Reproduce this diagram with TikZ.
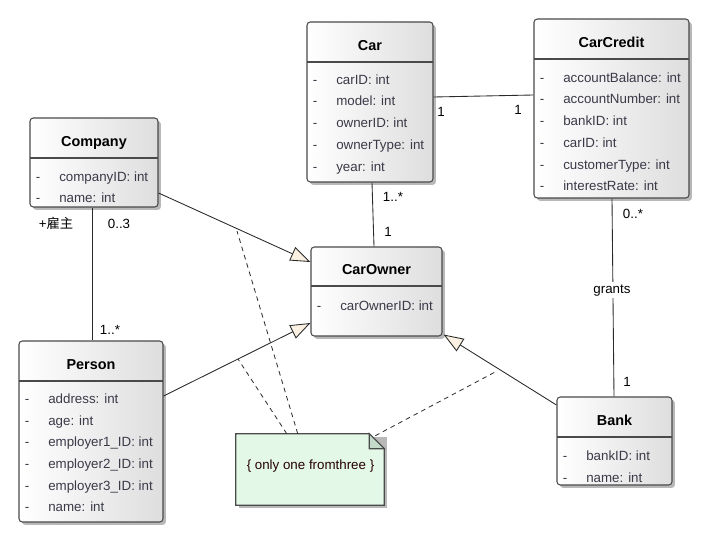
\documentclass[tikz,border=0pt]{standalone}
\usepackage{fontspec}
\setmainfont{Liberation Sans}
\newfontfamily\cjk{Noto Sans CJK SC}
\usetikzlibrary{arrows.meta,calc,fit,shadows}
\definecolor{boxline}{HTML}{4A4A4A}
\definecolor{attrcol}{HTML}{3A3A48}
\definecolor{arrowfill}{HTML}{FBF1E2}
\definecolor{notefill}{HTML}{E3F8E7}
\definecolor{foldfill}{HTML}{C3D9C9}
\definecolor{conn}{HTML}{2A2A2A}
\tikzset{
  classbox/.style={draw=boxline, line width=0.8pt, rounded corners=2.5pt, inner sep=0pt,
    left color=white, right color=black!13,
    drop shadow={shadow xshift=2.2pt, shadow yshift=-2.2pt, opacity=0.28, fill=black}},
  divline/.style={draw=boxline, line width=0.8pt},
  classtitle/.style={font=\fontsize{10.8pt}{12pt}\selectfont\bfseries, inner sep=0pt, text height=7.8pt, text depth=0pt},
  attrtext/.style={font=\fontsize{10pt}{12pt}\selectfont, text=attrcol, inner sep=0pt, text height=7.2pt, text depth=0pt},
  lbl/.style={font=\fontsize{10pt}{12pt}\selectfont, inner sep=0pt, text height=7.2pt, text depth=0pt},
  assoc/.style={draw=conn, line width=0.65pt},
  gen/.style={draw=conn, line width=0.65pt, -{Triangle[length=15pt, width=11pt, fill=arrowfill]}},
  anchorline/.style={draw=conn, line width=0.6pt, dash pattern=on 3.5pt off 3pt},
}
\newcommand\umlclass[9]{%
  \node[classbox, fit={(#2,#3) (#4,#5)}] (#1) {};
  \draw[divline] (#2,#6) -- (#4,#6);
  \node[classtitle] (#1-t) at ({(#2+#4)/2},{(#3+#6)/2+3}) {#7};
  \foreach \a [count=\i from 0] in {#9} {
    \node[attrtext, anchor=center] (#1-d\i) at ({#2+8},{#8+0.5+21.7*\i}) {-};
    \node[attrtext, anchor=west] (#1-a\i) at ({#2+29},{#8+0.5+21.7*\i}) {\a};
  }%
}
\begin{document}
\begin{tikzpicture}[x=0.75pt, y=-0.75pt]
\useasboundingbox[fill=white] (0,0) rectangle (711,556);

\umlclass{company}{30}{118}{158}{207}{158}{Company}{176}{companyID: int, name: int}
\umlclass{person}{19}{341}{163}{522}{381}{Person}{398}{address: int, age: int, employer1\_ID: int, employer2\_ID: int, employer3\_ID: int, name: int}
\umlclass{car}{307}{22}{433}{182}{62}{Car}{79}{carID: int, model: int, ownerID: int, ownerType: int, year: int}
\umlclass{cc}{534}{19}{689}{198}{59}{CarCredit}{77}{accountBalance: int, accountNumber: int, bankID: int, carID: int, customerType: int, interestRate: int}
\umlclass{owner}{311}{247}{442}{336}{286}{CarOwner}{305}{carOwnerID: int}
\umlclass{bank}{557}{397}{672}{485}{437}{Bank}{455}{bankID: int, name: int}

% note
\node[inner sep=0pt, fit={(236,434) (384,505)}] (note) {};
\fill[black, opacity=0.28] ($(note.north west)+(3,3)$) -- ($(note.north east)+(3,3)$) -- ($(note.south east)+(3,3)$) -- ($(note.south west)+(3,3)$) -- cycle;
\filldraw[fill=notefill, draw=boxline, line width=0.8pt] (note.north west) -- ($(note.north east)+(-15,0)$) -- ($(note.north east)+(0,15)$) -- (note.south east) -- (note.south west) -- cycle;
\filldraw[fill=foldfill, draw=boxline, line width=0.8pt] ($(note.north east)+(-15,0)$) -- ($(note.north east)+(-15,15)$) -- ($(note.north east)+(0,15)$) -- cycle;
\node[lbl, text=black!85!red] (notet) at (310.5,465) {\{ only one fromthree \}};

% associations
\draw[assoc] ($(car.east)+(0,-5)$) -- ($(cc.west)+(0,-13.5)$);
\node[lbl] (l1) at (441,112) {1};
\node[lbl] (l2) at (518,110) {1};

\draw[assoc] ($(car.south)+(2,0)$) -- ($(owner.north)+(-2.5,0)$);
\node[lbl] (l3) at (393,197) {1..*};
\node[lbl] (l4) at (388,232) {1};

\draw[assoc] ($(company.south)+(-2,0)$) -- ($(person.north)+(1,0)$);
\node[lbl] (l5) at (56,224) {+{\cjk 雇主}};
\node[lbl] (l6) at (119,224) {0..3};
\node[lbl] (l7) at (110,330) {1..*};

\draw[assoc] ($(cc.south)+(0.5,0)$) -- ($(bank.north)+(-0.5,0)$);
\node[lbl, fill=white, inner sep=1.5pt, text depth=2.2pt] (grants) at (612,290) {grants};
\node[lbl] (l8) at (633,214) {0..*};
\node[lbl] (l9) at (627,382) {1};

% generalizations
\draw[gen] ($(company.east)+(0,30.5)$) -- ($(owner.west)+(0,-29.5)$);
\draw[gen] ($(person.east)+(0,-35.5)$) -- ($(owner.west)+(0,31.5)$);
\draw[gen] ($(bank.west)+(0,-36)$) -- ($(owner.south east)+(1,-2)$);

% note anchors
\coordinate (dA) at (237,231);
\coordinate (dB) at (238,359);
\coordinate (dC) at (497,371);
\draw[anchorline] ($(note.north west)+(62,0)$) -- (dA);
\draw[anchorline] ($(note.north west)+(51,0)$) -- (dB);
\draw[anchorline] ($(note.north east)+(-9,2)$) -- (dC);
\end{tikzpicture}
\end{document}
